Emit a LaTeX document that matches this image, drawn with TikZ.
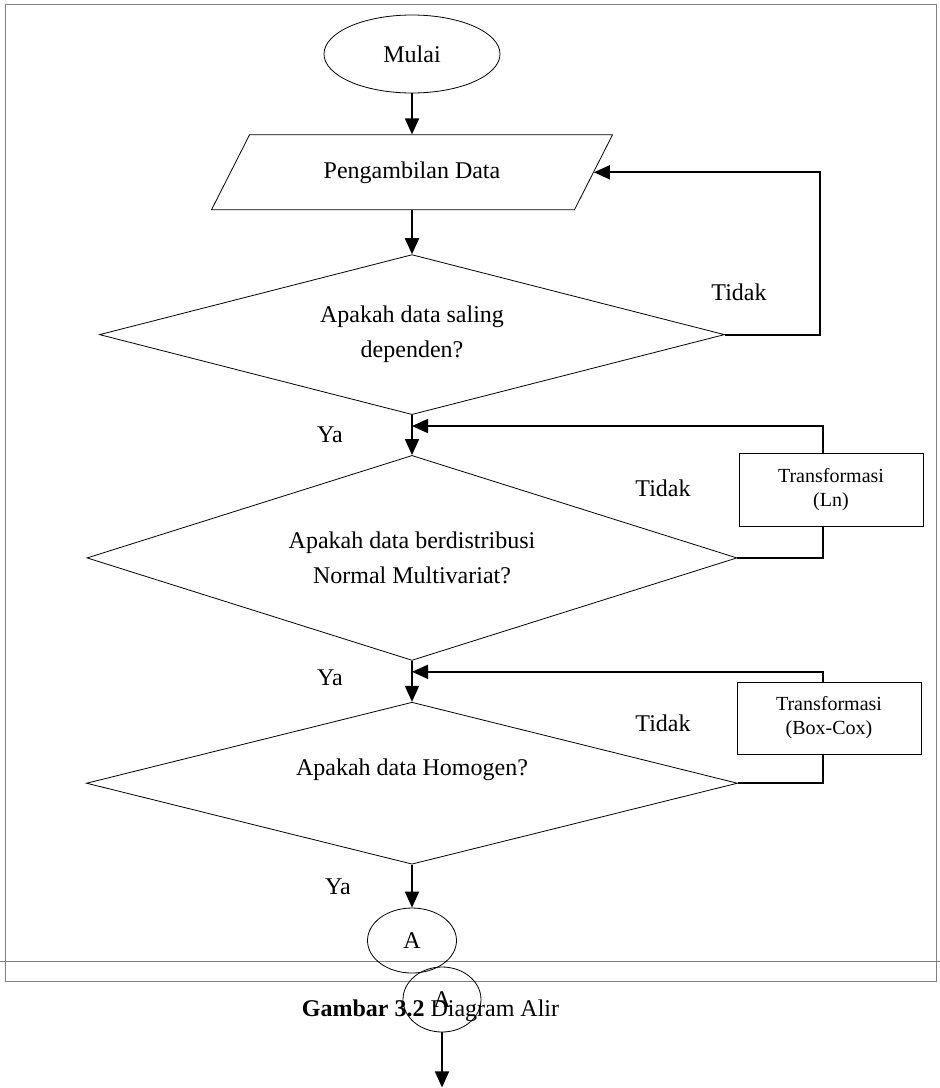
\documentclass[tikz,border=0pt]{standalone}
\usepackage{fontspec}
\setmainfont{Liberation Serif}
\usetikzlibrary{shapes.geometric, arrows.meta, positioning}

\begin{document}
\begin{tikzpicture}[x=1pt, y=-1pt,
        basic/.style    = {draw, line width=0.8pt, inner sep=0pt, align=center, font=\fontsize{24}{35}\selectfont},
        terminal/.style = {basic, ellipse, minimum width=176pt, minimum height=78pt},
        io/.style       = {basic, trapezium, trapezium left angle=63.1, trapezium right angle=116.9,
                           trapezium stretches body, text height=17pt, text depth=5pt,
                           inner ysep=26.5pt, minimum width=401pt, minimum height=75pt},
        decision/.style = {basic, diamond},
        process/.style  = {basic, rectangle, minimum width=184pt, minimum height=73pt, font=\fontsize{20}{24}\selectfont},
        offpage/.style  = {basic, ellipse, minimum height=65pt},
        lbl/.style      = {inner sep=0pt, font=\fontsize{24}{28}\selectfont},
        link/.style     = {line width=1.8pt},
        flow/.style     = {link, -{Triangle[length=16pt, width=14pt]}}]

    \useasboundingbox (0,0) rectangle (940,1088);

    % page frame
    \draw[gray, line width=0.8pt] (5,4) rectangle (936,981);
    \draw[gray, line width=0.8pt] (0,961) -- (940,961);

    % main column
    \node[terminal] (mulai) at (412,54) {Mulai};
    \node[io, below=41pt of mulai] (ambil) {Pengambilan Data};
    \node[decision, below=44pt of ambil, minimum width=625pt, minimum height=160pt, aspect=3.9] (d1)
        {Apakah data saling\\dependen?};
    \node[decision, below=40pt of d1, minimum width=650pt, minimum height=205pt, aspect=3.17] (d2)
        {Apakah data berdistribusi\\Normal Multivariat?};
    \node[decision, below=41pt of d2, minimum width=651pt, minimum height=162pt, aspect=4] (d3)
        {\raisebox{13pt}[\height][\depth]{Apakah data Homogen?}};
    \node[offpage, below=43pt of d3, minimum width=89pt] (a1) {A};
    \node[offpage, minimum width=78pt] (a2) at (442,999.5) {A};

    % transformations
    \node[process] (tln) at (831,489.5) {Transformasi\\(Ln)};
    \node[process, minimum height=72pt] (tbc) at (829,718) {Transformasi\\(Box-Cox)};

    % labels
    \node[lbl] (ya1) at (330,435) {Ya};
    \node[lbl] (ya2) at (330,678) {Ya};
    \node[lbl] (ya3) at (338,887) {Ya};
    \node[lbl] (td1) at (739,292) {Tidak};
    \node[lbl] (td2) at (663,488) {Tidak};
    \node[lbl] (td3) at (663,723) {Tidak};

    % caption
    \node[lbl] (cap) at (430.5,1011) {\textbf{Gambar 3.2} Diagram Alir};

    % joints on the main line
    \coordinate[below=11pt of d1.south] (j2);
    \coordinate[below=11pt of d2.south] (j3);

    % arrows down the main line
    \draw[flow] (mulai.south) -- (ambil.north);
    \draw[flow] (ambil.south) -- (d1.north);
    \draw[flow] (d1.south) -- (d2.north);
    \draw[flow] (d2.south) -- (d3.north);
    \draw[flow] (d3.south) -- (a1.north);
    \draw[flow] (a2.south) -- ++(0,55);

    % loops back for "Tidak"
    \draw[flow] (d1.east) -- ++(95,0) |- (ambil.east);
    \draw[link] (d2.east) -| ([xshift=-8pt]tln.south);
    \draw[flow] ([xshift=-8pt]tln.north) |- (j2);
    \draw[link] (d3.east) -| ([xshift=-6pt]tbc.south);
    \draw[flow] ([xshift=-6pt]tbc.north) |- (j3);

\end{tikzpicture}
\end{document}
